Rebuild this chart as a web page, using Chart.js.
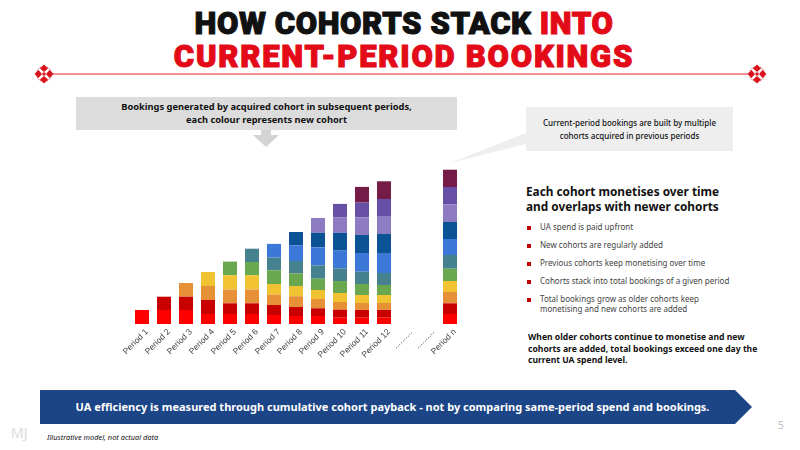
<!DOCTYPE html>
<html>
<head>
<meta charset="utf-8">
<script src="https://cdn.jsdelivr.net/npm/chart.js@4"></script>
<style>
    html, body { margin: 0; padding: 0; background: #fff; }
    #slide { position: relative; width: 800px; height: 450px; overflow: hidden; font-family: 'Noto Sans', sans-serif; color: #111; }
    #slide > * { position: absolute; }
    canvas { left: 0; top: 0; }
    .title { left: 0; width: 800px; text-align: center; font: 900 31px/36px Roboto, sans-serif; -webkit-text-stroke: 1.1px currentColor; white-space: nowrap; }
    .red { color: #e30b17; }
    .boxText { text-align: center; font-weight: 700; white-space: nowrap; }
    .bullet { left: 527px; width: 4px; height: 4px; background: #c00000; }
    .item { left: 540px; font-size: 8px; line-height: 10px; color: #444; white-space: nowrap; }
</style>
</head>
<body>
<div id="slide">
    <svg width="800" height="450" style="left:0;top:0">
        <line x1="52" y1="74" x2="748" y2="74" stroke="#e4252e" stroke-width="1"/>
        <g id="orn" fill="#d9121c">
            <polygon points="44,64.5 48,68.5 44,72 40,68.5"/>
            <polygon points="44,83.5 48,79.5 44,76 40,79.5"/>
            <polygon points="34.5,74 38.5,70 42,74 38.5,78"/>
            <polygon points="53.5,74 49.5,70 46,74 49.5,78"/>
            <rect x="42.5" y="72.5" width="3" height="3"/>
            <circle cx="44" cy="74" r="7.5" fill="none" stroke="#d9121c" stroke-width="1" stroke-dasharray="1.2 1.2"/>
        </g>
        <use href="#orn" x="713"/>
        <rect x="76" y="97" width="381" height="33" fill="#dcdcdc"/>
        <polygon points="261,130 271,130 271,135 279,135 266,147 253,135 261,135" fill="#d4d4d4"/>
        <polygon points="526,107 733,107 733,151 526,151 526,144 450,163 526,133" fill="#eeeeee"/>
        <polygon points="40,390 735,390 752,407 735,424 40,424" fill="#1c4587"/>
    </svg>

    <div class="title" style="top:6px;letter-spacing:0.6px;left:4px">HOW COHORTS STACK <span class="red">INTO</span></div>
    <div class="title red" style="top:39px;letter-spacing:1.75px;left:4px">CURRENT-PERIOD BOOKINGS</div>

    <div class="boxText" style="left:76px;width:381px;top:101px;font-size:9.3px;line-height:12.5px">Bookings generated by acquired cohort in subsequent periods,<br>each colour represents new cohort</div>
    <div class="boxText" style="left:526px;width:207px;top:116px;font-size:8px;line-height:13px;font-weight:500">Current-period bookings are built by multiple<br>cohorts acquired in previous periods</div>

    <div style="left:526px;top:184px;font-size:11.8px;line-height:15px;font-weight:700;white-space:nowrap">Each cohort monetises over time<br>and overlaps with newer cohorts</div>

    <div class="bullet" style="top:226px"></div><div class="item" style="top:222px">UA spend is paid upfront</div>
    <div class="bullet" style="top:244px"></div><div class="item" style="top:240px">New cohorts are regularly added</div>
    <div class="bullet" style="top:262px"></div><div class="item" style="top:258px">Previous cohorts keep monetising over time</div>
    <div class="bullet" style="top:280px"></div><div class="item" style="top:276px">Cohorts stack into total bookings of a given period</div>
    <div class="bullet" style="top:298px"></div><div class="item" style="top:294px">Total bookings grow as older cohorts keep<br>monetising and new cohorts are added</div>

    <div style="left:528px;top:332px;font-size:8.6px;line-height:11.5px;font-weight:700;white-space:nowrap">When older cohorts continue to monetise and new<br>cohorts are added, total bookings exceed one day the<br>current UA spend level.</div>

    <div class="boxText" style="left:40px;width:705px;top:399px;font-size:11px;line-height:15px;color:#fff">UA efficiency is measured through cumulative cohort payback - not by comparing same-period spend and bookings.</div>

    <div style="left:11px;top:425px;font-size:14px;line-height:15px;color:#dcdcdc">MJ</div>
    <div style="left:778px;top:419px;font-size:10px;line-height:12px;color:#bbb">5</div>
    <div style="left:47px;top:433px;font-size:7.4px;line-height:9px;font-style:italic;color:#111">Illustrative model, not actual data</div>

    <canvas id="stackChart" width="800" height="450"></canvas>
</div>

<script>
    const categories = ['Period 1', 'Period 2', 'Period 3', 'Period 4', 'Period 5', 'Period 6', 'Period 7', 'Period 8', 'Period 9', 'Period 10', 'Period 11', 'Period 12', '..........', '..........', 'Period n'];

    // one array per acquired cohort, oldest first
    const cohort1 = [14, 14, 14, 10, 10, 10, 9, 8, 8, 6.3, 6.3, 6.3, 0, 0, 10];
    const cohort2 = [0, 13.3, 13.3, 14, 10.7, 10.7, 10, 9, 7.7, 8, 7.7, 7.7, 0, 0, 10.7];
    const cohort3 = [0, 0, 13.7, 14, 13.7, 13.7, 10.3, 10.7, 9.3, 7.7, 7, 7, 0, 0, 11.3];
    const cohort4 = [0, 0, 0, 14, 14.3, 14.3, 10.7, 10.3, 9, 9, 8, 8, 0, 0, 11];
    const cohort5 = [0, 0, 0, 0, 13.7, 13.3, 13.7, 12.7, 11.3, 12, 11, 10, 0, 0, 12.3];
    const cohort6 = [0, 0, 0, 0, 0, 13.3, 12.7, 12.3, 13.3, 12.7, 12.3, 12, 0, 0, 13.7];
    const cohort7 = [0, 0, 0, 0, 0, 0, 13.7, 15.7, 18, 17.7, 18.7, 20, 0, 0, 16];
    const cohort8 = [0, 0, 0, 0, 0, 0, 0, 13.3, 14.7, 17.7, 18, 19, 0, 0, 17];
    const cohort9 = [0, 0, 0, 0, 0, 0, 0, 0, 14.7, 15.7, 17.7, 18, 0, 0, 17.7];
    const cohort10 = [0, 0, 0, 0, 0, 0, 0, 0, 0, 13.3, 14.7, 17, 0, 0, 17.3];
    const cohort11 = [0, 0, 0, 0, 0, 0, 0, 0, 0, 0, 15.7, 17.7, 0, 0, 17.3];

    const cohorts = [cohort1, cohort2, cohort3, cohort4, cohort5, cohort6, cohort7, cohort8, cohort9, cohort10, cohort11];
    const cohortColors = ['#ff0000', '#c90000', '#e69138', '#f1c232', '#6aa84f', '#45818e', '#3c78d8', '#0b5394', '#8e7cc3', '#674ea7', '#741b47'];

    new Chart(document.getElementById('stackChart').getContext('2d'), {
        type: 'bar',
        data: {
            labels: categories,
            datasets: cohorts.map(function(values, i) {
                return {
                    label: 'Cohort ' + (i + 1),
                    data: values,
                    backgroundColor: cohortColors[i],
                    borderWidth: 0,
                    barPercentage: 0.636,
                    categoryPercentage: 1
                };
            })
        },
        options: {
            responsive: false,
            animation: false,
            layout: { padding: { left: 131, right: 339, top: 150, bottom: 86 } },
            plugins: { legend: { display: false }, tooltip: { enabled: false } },
            scales: {
                x: {
                    stacked: true,
                    grid: { display: false },
                    border: { display: false },
                    afterFit: function(scale) { scale.height = 40; },
                    ticks: {
                        color: '#444',
                        font: { family: 'Liberation Sans', size: 8.5 },
                        minRotation: 45,
                        maxRotation: 45,
                        padding: -5,
                        labelOffset: 5,
                        autoSkip: false
                    }
                },
                y: { stacked: true, display: false, min: 0, max: 174 }
            }
        }
    });
</script>
</body>
</html>
